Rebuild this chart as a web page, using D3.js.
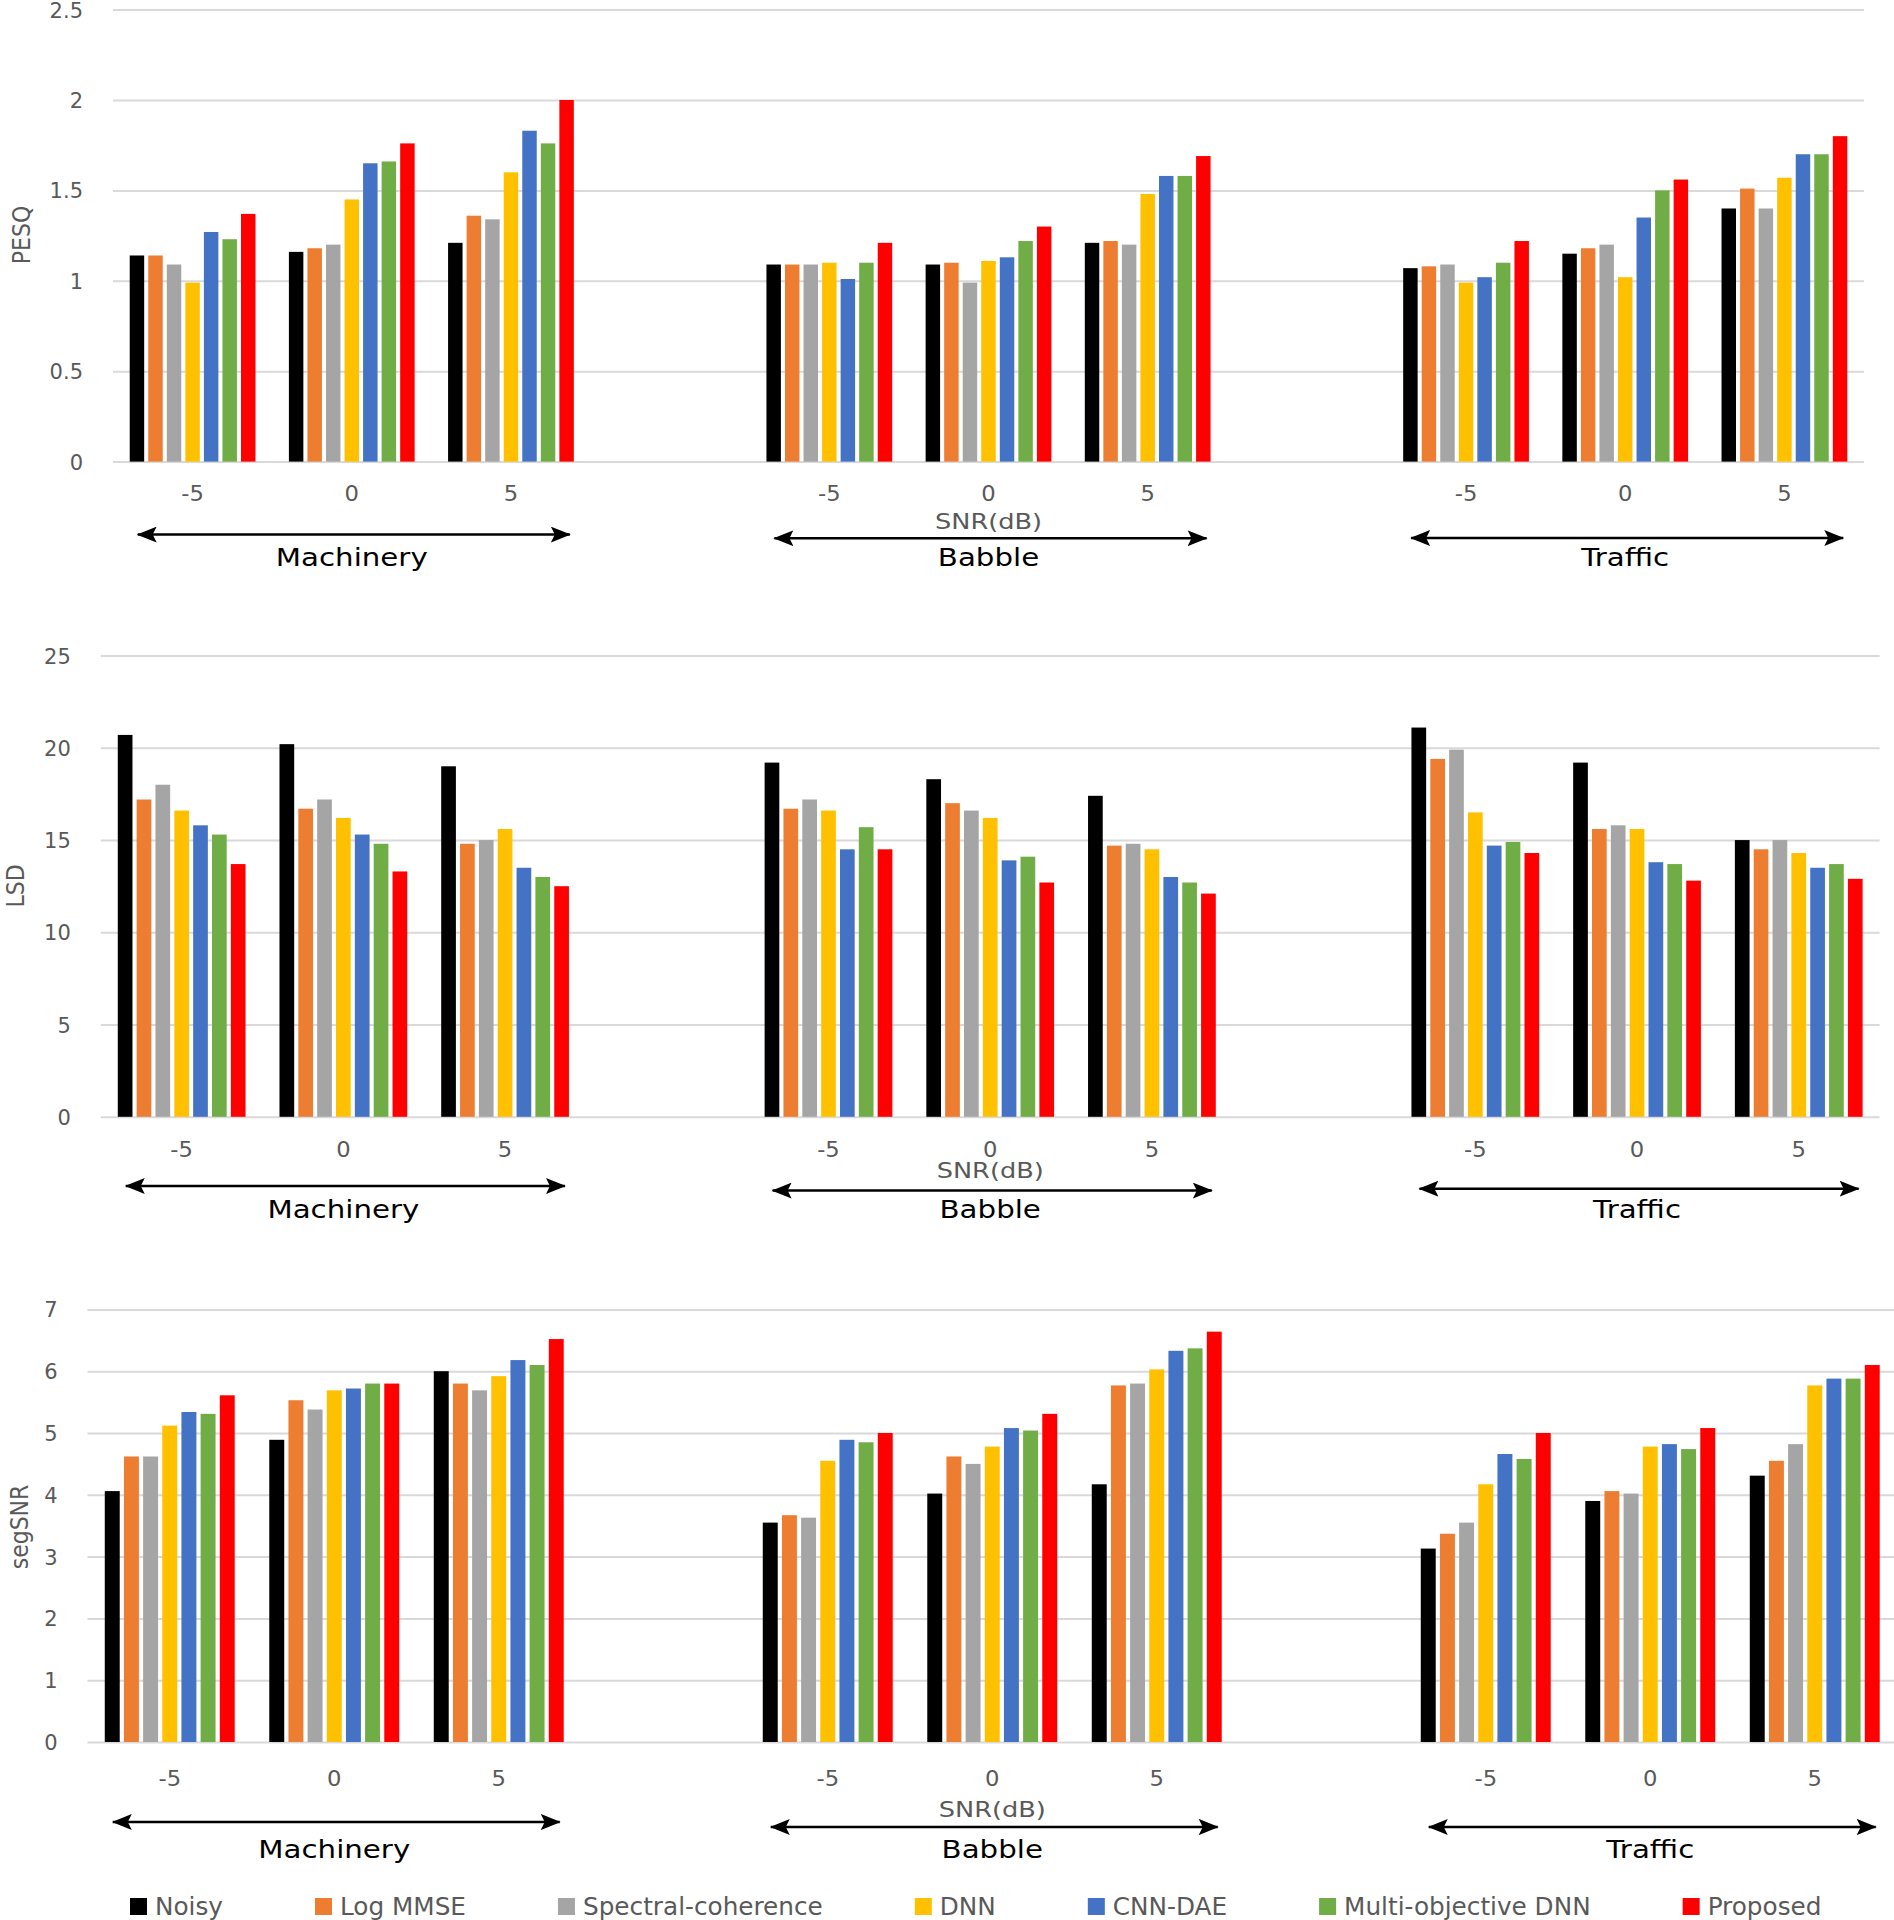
<!DOCTYPE html>
<html>
<head>
<meta charset="utf-8">
<script src="https://cdn.jsdelivr.net/npm/d3@7"></script>
<style>
  html, body { margin: 0; padding: 0; background: #ffffff; }
  svg { display: block; font-family: "DejaVu Sans", Verdana, sans-serif; }
</style>
</head>
<body>
<svg id="chart" width="1894" height="1920"></svg>
<script>
// ---------------- DATA ----------------
const methods = ["Noisy", "Log MMSE", "Spectral-coherence", "DNN", "CNN-DAE", "Multi-objective DNN", "Proposed"];
const methodColors = ["#000000", "#ED7D31", "#A5A5A5", "#FFC000", "#4472C4", "#70AD47", "#FF0000"];
const noiseTypes = ["Machinery", "Babble", "Traffic"];
const snrLevels = ["-5", "0", "5"];
const xAxisTitle = "SNR(dB)";

// rows: Machinery -5,0,5 | Babble -5,0,5 | Traffic -5,0,5 ; columns follow `methods`
const pesqValues = [
  [1.14, 1.14, 1.09, 0.99, 1.27, 1.23, 1.37],
  [1.16, 1.18, 1.20, 1.45, 1.65, 1.66, 1.76],
  [1.21, 1.36, 1.34, 1.60, 1.83, 1.76, 2.00],
  [1.09, 1.09, 1.09, 1.10, 1.01, 1.10, 1.21],
  [1.09, 1.10, 0.99, 1.11, 1.13, 1.22, 1.30],
  [1.21, 1.22, 1.20, 1.48, 1.58, 1.58, 1.69],
  [1.07, 1.08, 1.09, 0.99, 1.02, 1.10, 1.22],
  [1.15, 1.18, 1.20, 1.02, 1.35, 1.50, 1.56],
  [1.40, 1.51, 1.40, 1.57, 1.70, 1.70, 1.80]
];
const lsdValues = [
  [20.7, 17.2, 18.0, 16.6, 15.8, 15.3, 13.7],
  [20.2, 16.7, 17.2, 16.2, 15.3, 14.8, 13.3],
  [19.0, 14.8, 15.0, 15.6, 13.5, 13.0, 12.5],
  [19.2, 16.7, 17.2, 16.6, 14.5, 15.7, 14.5],
  [18.3, 17.0, 16.6, 16.2, 13.9, 14.1, 12.7],
  [17.4, 14.7, 14.8, 14.5, 13.0, 12.7, 12.1],
  [21.1, 19.4, 19.9, 16.5, 14.7, 14.9, 14.3],
  [19.2, 15.6, 15.8, 15.6, 13.8, 13.7, 12.8],
  [15.0, 14.5, 15.0, 14.3, 13.5, 13.7, 12.9]
];
const segsnrValues = [
  [4.06, 4.62, 4.62, 5.12, 5.34, 5.31, 5.61],
  [4.89, 5.53, 5.38, 5.69, 5.72, 5.80, 5.80],
  [6.00, 5.80, 5.69, 5.92, 6.18, 6.10, 6.52],
  [3.55, 3.67, 3.63, 4.55, 4.89, 4.85, 5.00],
  [4.02, 4.62, 4.50, 4.78, 5.08, 5.04, 5.31],
  [4.17, 5.77, 5.80, 6.03, 6.33, 6.37, 6.64],
  [3.13, 3.37, 3.55, 4.17, 4.66, 4.58, 5.00],
  [3.90, 4.06, 4.02, 4.78, 4.82, 4.74, 5.08],
  [4.31, 4.55, 4.82, 5.77, 5.88, 5.88, 6.10]
];
const pesqTicks = [0, 0.5, 1, 1.5, 2, 2.5];
const lsdTicks = [0, 5, 10, 15, 20, 25];
const segsnrTicks = [0, 1, 2, 3, 4, 5, 6, 7];

// ---------------- LAYOUT ----------------
const panels = [
  { title: "PESQ", values: pesqValues, ticks: pesqTicks,
    x0: 113, x1: 1864, gridEnd: 1864, yBase: 461.6, yTop: 9.6,
    tickDy: 39.5, snrDy: 67.4, arrowDy: [73, 76.6, 76.4], labelDy: 104.4,
    titleX: 21, titleY: 235 },
  { title: "LSD", values: lsdValues, ticks: lsdTicks,
    x0: 100.8, x1: 1879.6, gridEnd: 1879.6, yBase: 1116.8, yTop: 655.6,
    tickDy: 40.2, snrDy: 61.2, arrowDy: [69.2, 73.8, 71.9], labelDy: 101,
    titleX: 14.5, titleY: 886 },
  { title: "segSNR", values: segsnrValues, ticks: segsnrTicks,
    x0: 87.5, x1: 1897, gridEnd: 1894, yBase: 1742, yTop: 1309.4,
    tickDy: 44, snrDy: 74.6, arrowDy: [80, 85, 85], labelDy: 115.6,
    titleX: 18.5, titleY: 1527 }
];

const categories = [];
noiseTypes.forEach((n, i) => {
  snrLevels.forEach(s => categories.push(n + "|" + s));
  if (i < noiseTypes.length - 1) categories.push("gap" + i);
});

const svg = d3.select("#chart");
const fmt = d3.format("~g");

// arrow markers
const defs = svg.append("defs");
["start", "end"].forEach(k => {
  defs.append("marker")
    .attr("id", "arrow-" + k)
    .attr("markerUnits", "userSpaceOnUse")
    .attr("viewBox", "0 0 20 16")
    .attr("refX", k === "end" ? 19 : 1).attr("refY", 8)
    .attr("markerWidth", 20).attr("markerHeight", 16)
    .attr("orient", "auto")
    .append("path")
    .attr("d", k === "end" ? "M0,0 L20,8 L0,16 L4,8 Z" : "M20,0 L0,8 L20,16 L16,8 Z")
    .attr("fill", "#000");
});

panels.forEach(p => {
  const g = svg.append("g");
  const x = d3.scaleBand().domain(categories).range([p.x0, p.x1])
    .paddingInner(0.21).paddingOuter(0.105);
  const inner = d3.scaleBand().domain(methods).range([0, x.bandwidth()]).paddingInner(0.22);
  const y = d3.scaleLinear().domain([0, d3.max(p.ticks)]).range([p.yBase, p.yTop]);

  // y axis with gridlines
  const yAxis = g.append("g")
    .attr("transform", `translate(${p.x0},0)`)
    .call(d3.axisLeft(y).tickValues(p.ticks).tickFormat(fmt)
      .tickSize(-(p.gridEnd - p.x0)).tickPadding(30));
  yAxis.select(".domain").remove();
  yAxis.selectAll(".tick line").attr("stroke", "#D9D9D9").attr("stroke-width", 2);
  yAxis.selectAll(".tick text")
    .attr("fill", "#595959").style("font-size", "21px")
    .style("font-family", "'DejaVu Sans', sans-serif")
    .attr("dy", "0.36em");

  // bars
  p.values.forEach((row, r) => {
    const key = noiseTypes[Math.floor(r / 3)] + "|" + snrLevels[r % 3];
    g.append("g")
      .attr("transform", `translate(${x(key)},0)`)
      .selectAll("rect")
      .data(row.map((v, k) => ({ v, m: methods[k], c: methodColors[k] })))
      .join("rect")
      .attr("x", d => inner(d.m))
      .attr("width", inner.bandwidth())
      .attr("y", d => y(d.v))
      .attr("height", d => y(0) - y(d.v))
      .attr("fill", d => d.c);
  });

  // x tick labels
  const xTicks = categories.filter(c => !c.startsWith("gap"));
  const xAxis = g.append("g")
    .attr("transform", `translate(0,${p.yBase})`)
    .call(d3.axisBottom(x).tickValues(xTicks).tickSize(0).tickPadding(0)
      .tickFormat(c => c.split("|")[1]));
  xAxis.select(".domain").remove();
  xAxis.selectAll(".tick text")
    .attr("y", p.tickDy).attr("dy", 0)
    .attr("fill", "#595959").style("font-size", "21px")
    .style("font-family", "'DejaVu Sans', sans-serif")
    .attr("transform", "scale(1.08,1)");

  // SNR(dB) title centered under middle group
  const midKey = noiseTypes[1] + "|" + snrLevels[1];
  g.append("text")
    .attr("transform", `translate(${x(midKey) + x.bandwidth() / 2},${p.yBase + p.snrDy}) scale(1.22,1)`)
    .attr("text-anchor", "middle")
    .attr("fill", "#595959").style("font-size", "21px")
    .text(xAxisTitle);

  // noise type arrows and labels
  noiseTypes.forEach((n, i) => {
    const first = x(n + "|" + snrLevels[0]);
    const last = x(n + "|" + snrLevels[2]) + x.bandwidth();
    const ay = p.yBase + p.arrowDy[i];
    g.append("line")
      .attr("x1", first + 8).attr("x2", last - 4)
      .attr("y1", ay).attr("y2", ay)
      .attr("stroke", "#000").attr("stroke-width", 2.5)
      .attr("marker-start", "url(#arrow-start)")
      .attr("marker-end", "url(#arrow-end)");
    const mid = x(n + "|" + snrLevels[1]) + x.bandwidth() / 2;
    g.append("text")
      .attr("transform", `translate(${mid},${p.yBase + p.labelDy}) scale(1.22,1)`)
      .attr("text-anchor", "middle")
      .attr("fill", "#000").style("font-size", "24px")
      .text(n);
  });

  // y-axis title
  g.append("text")
    .attr("transform", `translate(${p.titleX},${p.titleY}) rotate(-90) scale(1,1.15)`)
    .attr("text-anchor", "middle")
    .attr("dy", "0.36em")
    .attr("fill", "#595959").style("font-size", "22px")
    .text(p.title);
});

// ---------------- LEGEND ----------------
const legend = svg.append("g");
const legendStretch = 1.03;
let lx = 130;
methods.forEach((m, i) => {
  legend.append("rect")
    .attr("x", lx).attr("y", 1898).attr("width", 17).attr("height", 17)
    .attr("fill", methodColors[i]);
  const t = legend.append("text")
    .attr("transform", `translate(${lx + 25},1915) scale(${legendStretch},1)`)
    .attr("fill", "#595959").style("font-size", "24px")
    .text(m);
  lx = lx + 25 + t.node().getComputedTextLength() * legendStretch + 92;
});
</script>
</body>
</html>
